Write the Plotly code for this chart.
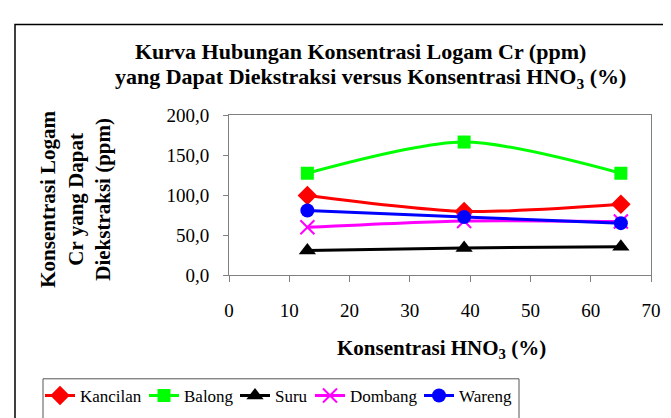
import plotly.graph_objects as go

hno3 = [13, 39, 65]
kancilan = [99.4, 79.5, 88.3]
balong = [127.2, 166.2, 127.2]
suru = [30.6, 33.8, 35.4]
dombang = [59.6, 67.6, 66.8]
wareng = [80.7, 72.4, 64.8]

series = [
    ("Kancilan", kancilan, "#FF0000", "diamond", 15),
    ("Balong", balong, "#00FF00", "square", 13),
    ("Suru", suru, "#000000", "triangle-up", 15),
    ("Dombang", dombang, "#FF00FF", "x-thin-open", 14),
    ("Wareng", wareng, "#0000FF", "circle", 14),
]
legend_starts = [41, 145, 236, 311, 420]

FONT = "Times New Roman, Liberation Serif, DejaVu Serif, serif"
W, H = 671, 418
L, R, T, B = 221, 643, 107, 275

def px(x):
    return (x - L) / (R - L)

def py(y):
    return (B - y) / (B - T)

fig = go.Figure()
legends = {}
for i, (name, vals, col, sym, sz) in enumerate(series):
    key = "legend" if i == 0 else f"legend{i + 1}"
    fig.add_trace(go.Scatter(
        x=hno3, y=vals, name=name, mode="lines+markers", legend=key,
        line=dict(color=col, width=3, shape="spline", smoothing=0.8),
        marker=dict(symbol=sym, size=sz, color=col,
                    line=dict(color=col, width=2 if "x" in sym else 0)),
    ))
    legends[key] = dict(orientation="h", x=px(legend_starts[i] - 9), y=py(402),
                        xanchor="left", yanchor="middle", borderwidth=0,
                        font=dict(family=FONT, size=17), itemwidth=30,
                        bgcolor="rgba(0,0,0,0)")

fig.update_layout(
    width=W, height=H,
    margin=dict(l=L, r=W - R, t=T, b=H - B),
    paper_bgcolor="white", plot_bgcolor="white",
    font=dict(family=FONT, size=19, color="black"),
    separators=",.",
    showlegend=True,
    xaxis=dict(range=[0, 70], dtick=10, tick0=0, showgrid=False, zeroline=False,
               showline=True, linecolor="#808080", linewidth=1, mirror=True,
               ticks="outside", ticklen=6, tickcolor="#808080",
               ticklabelstandoff=12,
               tickfont=dict(family=FONT, size=19)),
    yaxis=dict(range=[0, 200], dtick=50, tickformat=".1f", showgrid=False, zeroline=False,
               showline=True, linecolor="#808080", linewidth=1, mirror=True,
               ticks="outside", ticklen=5, tickcolor="#808080",
               ticklabelstandoff=10,
               tickfont=dict(family=FONT, size=19)),
    **legends,
)

fig.add_annotation(xref="paper", yref="paper", x=px(352), y=py(40),
                   text="<b>Kurva Hubungan Konsentrasi Logam Cr (ppm)</b>",
                   showarrow=False, font=dict(family=FONT, size=22), xanchor="center", yanchor="middle")
fig.add_annotation(xref="paper", yref="paper", x=px(362), y=py(68),
                   text="<b>yang Dapat Diekstraksi versus Konsentrasi HNO<sub>3</sub> (%)</b>",
                   showarrow=False, font=dict(family=FONT, size=22), xanchor="center", yanchor="middle")
fig.add_annotation(xref="paper", yref="paper", x=px(433), y=py(353),
                   text="<b>Konsentrasi HNO<sub>3</sub> (%)</b>",
                   showarrow=False, font=dict(family=FONT, size=21), xanchor="center", yanchor="middle")
fig.add_annotation(xref="paper", yref="paper", x=px(68), y=py(196),
                   text="<b>Konsentrasi Logam<br>Cr yang Dapat<br>Diekstraksi (ppm)</b>",
                   showarrow=False, font=dict(family=FONT, size=21), textangle=-90,
                   xanchor="center", yanchor="middle")

fig.add_shape(type="rect", xref="paper", yref="paper",
              x0=px(7), x1=px(700), y0=py(440), y1=py(12),
              line=dict(color="black", width=1.5), layer="below")
fig.add_shape(type="rect", xref="paper", yref="paper",
              x0=px(35), x1=px(511), y0=py(430), y1=py(384),
              line=dict(color="#555555", width=1), layer="below")

fig.write_html("out.html")
